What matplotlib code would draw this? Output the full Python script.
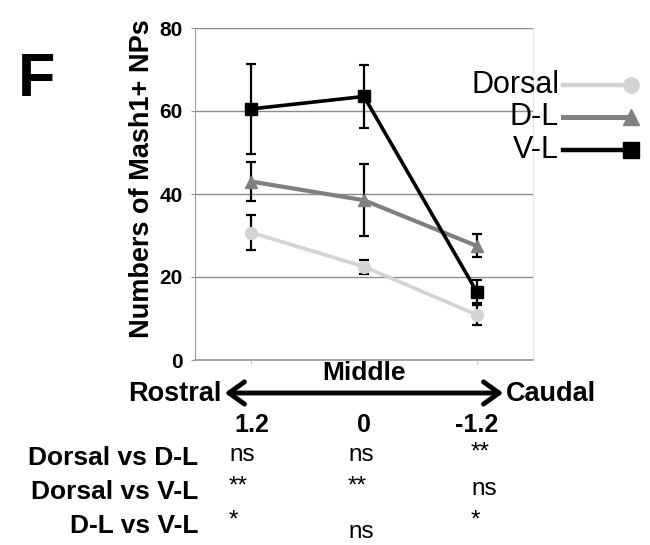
import matplotlib
matplotlib.use("Agg")
import matplotlib.pyplot as plt
from matplotlib.lines import Line2D
from matplotlib.patches import FancyArrowPatch

plt.rcParams['font.family'] = ['Liberation Sans', 'DejaVu Sans']

# data
positions = ['1.2', '0', '-1.2']
series = ['Dorsal', 'D-L', 'V-L']
dorsal = [30.7, 22.5, 10.9]
dorsal_err = [4.3, 1.7, 2.4]
dl = [43.0, 38.5, 27.5]
dl_err = [4.8, 8.7, 2.8]
vl = [60.5, 63.5, 16.5]
vl_err = [10.8, 7.6, 2.7]
comparisons = ['Dorsal vs D-L', 'Dorsal vs V-L', 'D-L vs V-L']
signif = [['ns', 'ns', '**'],
          ['**', '**', 'ns'],
          ['*', 'ns', '*']]

colors = {'Dorsal': '#d3d3d3', 'D-L': '#808080', 'V-L': '#000000'}
markers = {'Dorsal': 'o', 'D-L': '^', 'V-L': 's'}
widths = {'Dorsal': 2.6, 'D-L': 3.0, 'V-L': 2.6}

W, H = 650, 545
fig = plt.figure(figsize=(W / 100, H / 100), dpi=100)
ax = fig.add_axes([195 / W, 1 - 360 / H, 338 / W, 332 / H])


def px(x, y):
    return x / W, 1 - y / H


x = list(range(len(positions)))
for name, vals, errs in [('Dorsal', dorsal, dorsal_err), ('D-L', dl, dl_err), ('V-L', vl, vl_err)]:
    ax.errorbar(x, vals, yerr=errs, fmt='none', ecolor='black', elinewidth=1.6,
                capsize=3.5, capthick=1.6, zorder=2)
    ax.plot(x, vals, color=colors[name], lw=widths[name], marker=markers[name],
            ms=8.5 if name != 'V-L' else 8, mec=colors[name], mfc=colors[name], zorder=3)

ax.set_xlim(-0.5, 2.5)
ax.set_ylim(0, 80)
ax.set_yticks([0, 20, 40, 60, 80])
ax.yaxis.grid(True, color='#8c8c8c', lw=1.0)
ax.set_axisbelow(True)
ax.spines['top'].set_visible(False)
ax.spines['right'].set_color('#e6e6e6')
ax.spines['left'].set_color('#9a9a9a')
ax.spines['bottom'].set_color('#9a9a9a')
ax.spines['bottom'].set_linewidth(1.2)
ax.tick_params(axis='y', length=3, color='#9a9a9a', labelsize=15, pad=6)
for t in ax.get_yticklabels():
    t.set_fontweight('bold')
ax.set_xticks(x)
ax.set_xticklabels(positions, fontsize=18, fontweight='bold')
ax.tick_params(axis='x', length=3, color='#cccccc', pad=35)

ax.set_ylabel('Numbers of Mash1+ NPs', fontsize=19.5, fontweight='bold')
ax.yaxis.set_label_coords(-0.118, 0.545)

# panel letter
fig.text(*px(18, 96), 'F', fontsize=44, fontweight='bold')

# legend drawn by hand: text, line, marker at the right end
leg_y = [85, 117, 150]
for name, yy in zip(series, leg_y):
    fig.text(*px(559, yy), name, fontsize=22, ha='right', va='center')
    fig.add_artist(Line2D([563 / W, 626 / W], [1 - yy / H] * 2, color=colors[name],
                          lw=widths[name] + 0.6))
    fig.add_artist(Line2D([631 / W], [1 - yy / H], color=colors[name],
                          marker=markers[name], ms=11, mec=colors[name], mfc=colors[name]))

# rostral / caudal axis
fig.text(*px(364, 373), 'Middle', fontsize=19, fontweight='bold', ha='center', va='center')
fig.text(*px(221, 394), 'Rostral', fontsize=19.5, fontweight='bold', ha='right', va='center')
fig.text(*px(506, 394), 'Caudal', fontsize=19.5, fontweight='bold', ha='left', va='center')
arrow = FancyArrowPatch(px(222, 393), px(506, 393), transform=fig.transFigure,
                        arrowstyle='<->,head_length=7,head_width=5', lw=3.5, color='black',
                        mutation_scale=1.6)
fig.add_artist(arrow)

# significance table
row_y = [455, 489, 523]
col_x = [229, 348, 471]
for label, yy, marks in zip(comparisons, row_y, signif):
    fig.text(*px(198, yy + 3), label, fontsize=19, fontweight='bold', ha='right', va='center')
    for cx, m in zip(col_x, marks):
        dy = 9 if (m == 'ns' and label == 'D-L vs V-L') else 0
        if m.startswith('*'):
            dy -= 2
        fig.text(*px(cx, yy + dy), m, fontsize=17.5, ha='left', va='center')

fig.savefig('out.png', dpi=100)
